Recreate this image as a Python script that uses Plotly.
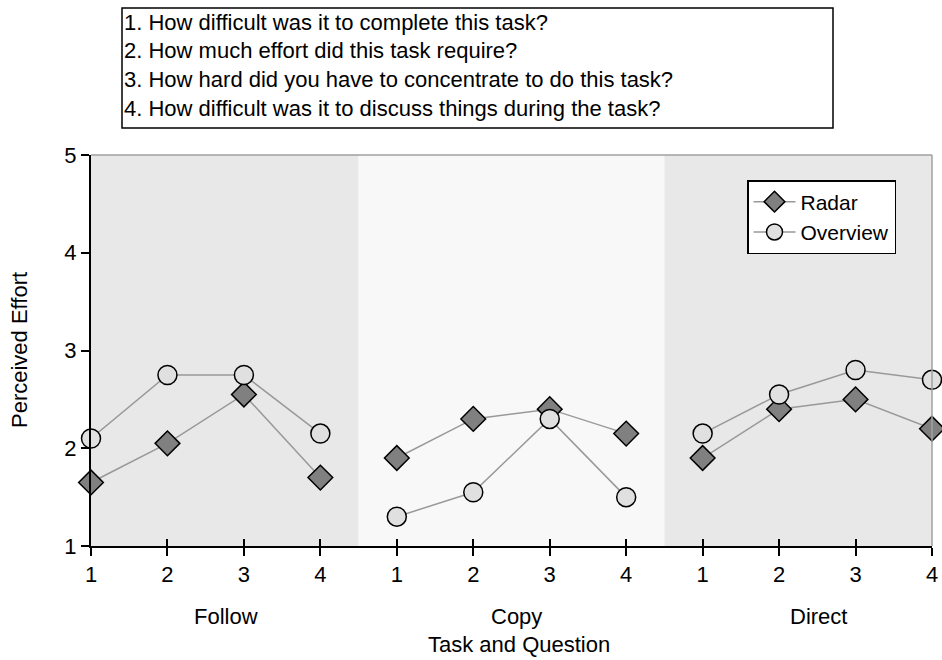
import plotly.graph_objects as go

tasks = ["Follow", "Copy", "Direct"]
questions = ["1", "2", "3", "4"]
radar = [1.65, 2.05, 2.55, 1.70, 1.90, 2.30, 2.40, 2.15, 1.90, 2.40, 2.50, 2.20]
overview = [2.10, 2.75, 2.75, 2.15, 1.30, 1.55, 2.30, 1.50, 2.15, 2.55, 2.80, 2.70]
question_texts = [
    "1. How difficult was it to complete this task?",
    "2. How much effort did this task require?",
    "3. How hard did you have to concentrate to do this task?",
    "4. How difficult was it to discuss things during the task?",
]

nq = len(questions)
FONT = "Liberation Sans, Arial, sans-serif"
FS = 22


def segmented(vals):
    xs, ys = [], []
    for t in range(len(tasks)):
        for q in range(nq):
            xs.append(t * nq + q)
            ys.append(vals[t * nq + q])
        xs.append(None)
        ys.append(None)
    return xs, ys


fig = go.Figure()
xr, yr = segmented(radar)
xo, yo = segmented(overview)
fig.add_trace(go.Scatter(
    x=xr, y=yr, mode="lines+markers", name="Radar", cliponaxis=False,
    line=dict(color="#999999", width=1.5),
    marker=dict(symbol="diamond", size=19, color="#808080", line=dict(color="black", width=1.5)),
))
fig.add_trace(go.Scatter(
    x=xo, y=yo, mode="lines+markers", name="Overview", cliponaxis=False,
    line=dict(color="#999999", width=1.5),
    marker=dict(symbol="circle", size=19, color="#e0e0e0", line=dict(color="black", width=1.5)),
))

nx = len(radar) - 1
# invisible trace on overlay axis for crossing ticks
fig.add_trace(go.Scatter(x=[0, nx], y=[None, None], xaxis="x2", showlegend=False,
                         hoverinfo="skip"))

OFF = 0
L, R, T, B = 91, 10, 155, 114
W, H = 942, 660
pw, ph = W - L - R, H - T - B


def px2x(p):
    return (p - OFF - L) / pw


def py2y(p):
    return (H - B - (p - OFF)) / ph


shapes = []
band_colors = ["#e8e8e8", "#f8f8f8", "#e8e8e8"]
for t in range(len(tasks)):
    x0 = max(0, t * nq - 0.5)
    x1 = min(nx, (t + 1) * nq - 0.5)
    shapes.append(dict(type="rect", xref="x", yref="paper", x0=x0, x1=x1, y0=0, y1=1,
                       fillcolor=band_colors[t], line=dict(width=0), layer="below"))
shapes.append(dict(type="line", xref="paper", yref="paper", x0=0, x1=1, y0=1, y1=1,
                   line=dict(color="#a0a0a0", width=1.5)))
shapes.append(dict(type="line", xref="paper", yref="paper", x0=1, x1=1, y0=0, y1=1,
                   line=dict(color="#a0a0a0", width=1.5)))

shapes.append(dict(type="rect", xref="paper", yref="paper",
                   x0=px2x(122), x1=px2x(833), y0=py2y(128), y1=py2y(8),
                   line=dict(color="black", width=1.5), fillcolor="white"))

annotations = []
for i, txt in enumerate(question_texts):
    annotations.append(dict(text=txt, xref="paper", yref="paper", x=px2x(122), y=py2y(22 + i * 28.7),
                            xanchor="left", yanchor="middle", showarrow=False,
                            font=dict(family=FONT, size=FS, color="black")))

task_centers = [226, 516, 818]
for t, name in enumerate(tasks):
    annotations.append(dict(text=name, xref="paper", yref="paper", x=px2x(task_centers[t]), y=py2y(616),
                            xanchor="center", yanchor="middle", showarrow=False,
                            font=dict(family=FONT, size=FS, color="black")))
annotations.append(dict(text="Task and Question", xref="paper", yref="paper", x=px2x(519), y=py2y(644),
                        xanchor="center", yanchor="middle", showarrow=False,
                        font=dict(family=FONT, size=FS, color="black")))
annotations.append(dict(text="Perceived Effort", xref="paper", yref="paper", x=px2x(19), y=py2y(350),
                        xanchor="center", yanchor="middle", showarrow=False, textangle=-90,
                        font=dict(family=FONT, size=FS, color="black")))

ticktext = [q for _ in tasks for q in questions]
fig.update_layout(
    width=W, height=H,
    margin=dict(l=L, r=R, t=T, b=B, autoexpand=False),
    paper_bgcolor="white", plot_bgcolor="white",
    font=dict(family=FONT, size=FS, color="black"),
    showlegend=True,
    legend=dict(x=px2x(747), y=py2y(217), xanchor="left", yanchor="middle",
                bgcolor="white", bordercolor="black", borderwidth=1.5,
                font=dict(family=FONT, size=21), tracegroupgap=0,
                itemwidth=42),
    xaxis=dict(range=[0, nx], tickvals=list(range(nx + 1)), ticktext=ticktext,
               showgrid=False, zeroline=False, showline=True, linecolor="black", linewidth=2,
               ticks="outside", ticklen=8, tickwidth=1.5, tickcolor="black", automargin=False,
               tickfont=dict(family=FONT, size=FS)),
    xaxis2=dict(range=[0, nx], overlaying="x", anchor="y", side="bottom",
                tickvals=list(range(nx + 1)), showticklabels=False, automargin=False,
                showgrid=False, zeroline=False, showline=False,
                ticks="inside", ticklen=7, tickwidth=1.5, tickcolor="black"),
    yaxis=dict(range=[1, 5], tickvals=[1, 2, 3, 4, 5], showgrid=False, zeroline=False,
               showline=True, linecolor="black", linewidth=2, automargin=False,
               ticks="outside", ticklen=8, tickwidth=1.5, tickcolor="black",
               tickfont=dict(family=FONT, size=FS)),
    shapes=shapes,
    annotations=annotations,
)

fig.write_html("out.html", config={"displayModeBar": False},
               post_script="document.body.style.margin='0px';document.body.style.overflow='hidden';")
